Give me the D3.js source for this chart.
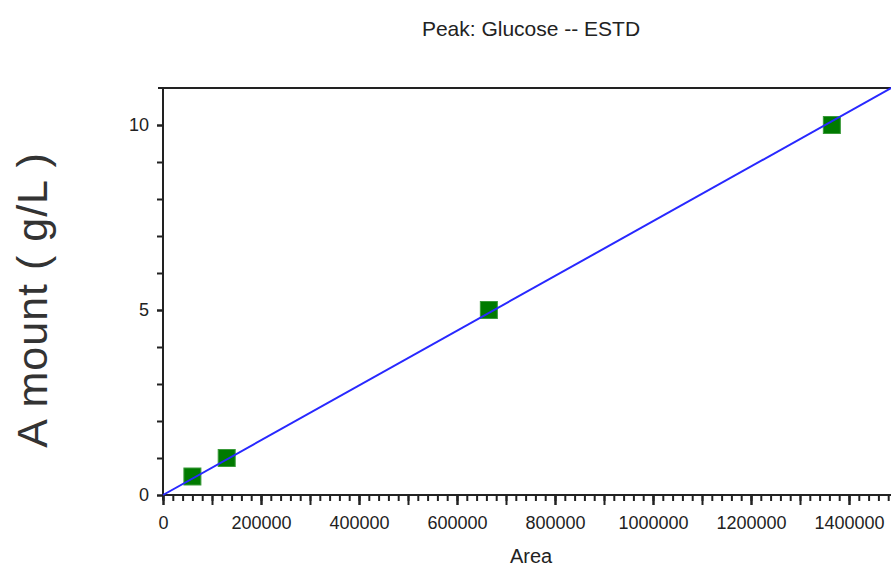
<!DOCTYPE html>
<html lang="en">
<head>
<meta charset="utf-8">
<title>Peak: Glucose -- ESTD</title>
<script src="https://d3js.org/d3.v7.min.js"></script>
<style>
  body { margin: 0; background: white; }
  text { font-family: "Liberation Sans", Arial, sans-serif; fill: #222; }
</style>
</head>
<body>
<script>
// calibration points (area, amount g/L)
var areas = [60000, 130000, 665000, 1365000];
var amounts = [0.5, 1.0, 5, 10];
// fitted line end points
var fitX = [0, 1500000];
var fitY = [0, 11.1];
var xTickLabels = [0, 200000, 400000, 600000, 800000, 1000000, 1200000, 1400000];
var yTickLabels = [0, 5, 10];

var w = 891, h = 574;
var padLeft = 163, padBottom = 495, padTop = 88;

var x = d3.scaleLinear().domain([0, 1500000]).range([padLeft, padLeft + 98 * 7.5]);
var y = d3.scaleLinear().domain([0, 11]).range([padBottom, padTop]);

var svg = d3.select("body").append("svg").attr("width", w).attr("height", h);

// title
svg.append("text").attr("x", 531).attr("y", 36).attr("text-anchor", "middle")
  .style("font-size", "21px").text("Peak: Glucose -- ESTD");

// frame top line
svg.append("line").attr("x1", padLeft - 5).attr("x2", w + 10).attr("y1", padTop).attr("y2", padTop)
  .attr("stroke", "#222").attr("stroke-width", 2);

// x axis ticks
var xAxisMinor = d3.axisBottom(x).tickValues(d3.range(0, 1500001, 20000))
  .tickSize(6).tickFormat("");
var gxm = svg.append("g").attr("transform", "translate(0," + padBottom + ")").call(xAxisMinor);
var xAxisMid = d3.axisBottom(x).tickValues(d3.range(0, 1500001, 100000))
  .tickSize(10).tickFormat("");
var gxmid = svg.append("g").attr("transform", "translate(0," + padBottom + ")").call(xAxisMid);
var xAxis = d3.axisBottom(x).tickValues(xTickLabels).tickSize(10).tickPadding(11)
  .tickFormat(d3.format("d"));
var gx = svg.append("g").attr("transform", "translate(0," + padBottom + ")").call(xAxis);
[gxm, gxmid, gx].forEach(function(g) {
  g.select(".domain").remove();
  g.selectAll("line").attr("stroke", "#222").attr("stroke-width", 2);
});
gx.selectAll("text").style("font-size", "18px").style("font-family", "Liberation Sans, Arial, sans-serif")
  .attr("fill", "#222");

svg.append("line").attr("x1", padLeft).attr("x2", w + 10).attr("y1", padBottom).attr("y2", padBottom)
  .attr("stroke", "#222").attr("stroke-width", 2);

// y axis
var yAxisMinor = d3.axisLeft(y).tickValues(d3.range(0, 11, 1)).tickSize(6).tickFormat("");
var gym = svg.append("g").attr("transform", "translate(" + padLeft + ",0)").call(yAxisMinor);
var yAxis = d3.axisLeft(y).tickValues(yTickLabels).tickSize(6).tickPadding(8);
var gy = svg.append("g").attr("transform", "translate(" + padLeft + ",0)").call(yAxis);
[gym, gy].forEach(function(g) {
  g.select(".domain").remove();
  g.selectAll("line").attr("stroke", "#222").attr("stroke-width", 2);
});
gy.selectAll("text").style("font-size", "18px").style("font-family", "Liberation Sans, Arial, sans-serif")
  .attr("fill", "#222");
svg.append("line").attr("x1", padLeft).attr("x2", padLeft).attr("y1", padTop - 1).attr("y2", padBottom + 5)
  .attr("stroke", "#222").attr("stroke-width", 2);

// axis titles
svg.append("text").attr("x", 531).attr("y", 563).attr("text-anchor", "middle")
  .style("font-size", "20px").text("Area");
svg.append("text").attr("transform", "translate(47,300) rotate(-90)").attr("text-anchor", "middle")
  .style("font-size", "43px").style("letter-spacing", "1px").style("fill", "#333")
  .text("A mount ( g/L )");

var fit = fitX.map(function(d, i) { return [d, fitY[i]]; });

// points
svg.append("g").selectAll("rect").data(areas).enter().append("rect")
  .attr("x", function(d) { return x(d) - 8.5; })
  .attr("y", function(d, i) { return y(amounts[i]) - 8.5; })
  .attr("width", 17).attr("height", 17)
  .attr("fill", "#007a00").attr("stroke", "#3a9a3a").attr("stroke-width", 1);

// fit line over the squares
svg.append("path").datum(fit)
  .attr("d", d3.line().x(function(d) { return x(d[0]); }).y(function(d) { return y(d[1]); }))
  .attr("stroke", "#2828ff").attr("stroke-width", 2).attr("fill", "none");
</script>
</body>
</html>
